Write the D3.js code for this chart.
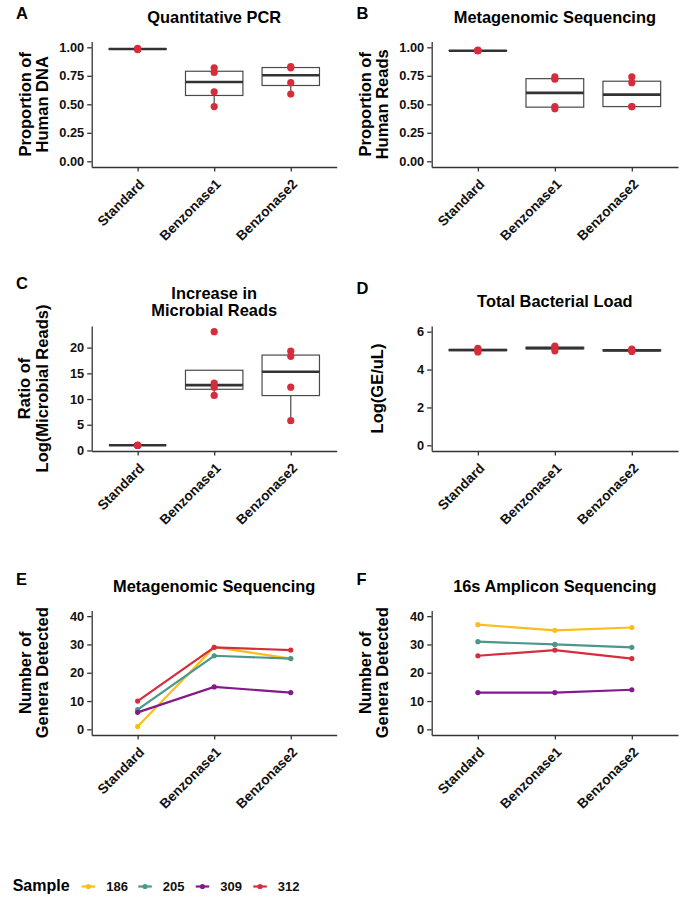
<!DOCTYPE html>
<html><head><meta charset="utf-8">
<script src="https://cdn.jsdelivr.net/npm/d3@7"></script>
<style>
body{margin:0;background:#fff;}
svg text{font-family:"Liberation Sans",Arial,Helvetica,sans-serif;font-weight:bold;}
</style></head><body>
<svg id="chart" width="687" height="904"></svg>
<script>
// ---------- data ----------
const categories = ["Standard", "Benzonase1", "Benzonase2"];
const qpcrHumanDNA = [[0.98, 0.985, 0.99, 0.985], [0.48, 0.61, 0.78, 0.82], [0.59, 0.69, 0.82, 0.83]];
const metaHumanReads = [[0.97, 0.97, 0.975, 0.97], [0.46, 0.48, 0.72, 0.74], [0.48, 0.48, 0.69, 0.74]];
const microbialRatio = [[1, 1, 1, 1], [10.7, 12.3, 13.1, 23.1], [5.8, 12.3, 18.3, 19.3]];
const bacterialLoad = [[4.93, 5.02, 5.04, 5.12], [4.99, 5.12, 5.16, 5.24], [4.96, 5.0, 5.03, 5.08]];
const samples = ["186", "205", "309", "312"];
const metaGenera = [[1, 29, 25], [7, 26, 25], [6, 15, 13], [10, 29, 28]];
const ampliconGenera = [[37, 35, 36], [31, 30, 29], [13, 13, 14], [26, 28, 25]];
const ticksProportion = [0, 0.25, 0.5, 0.75, 1];
const ticksRatio = [0, 5, 10, 15, 20];
const ticksLoad = [0, 2, 4, 6];
const ticksGenera = [0, 10, 20, 30, 40];

// ---------- styles ----------
const sampleColors = ["#F9BE1C", "#4B978C", "#84198C", "#D62D3D"];
const pointRed = "#D62D3D";
const axisColor = "#333333";
const svg = d3.select("#chart");

function expandDomain(lo, hi) { const d = (hi - lo) * 0.05; return [lo - d, hi + d]; }

function panel(cfg) {
  const g = svg.append("g");
  const x = d3.scalePoint().domain(categories).range([cfg.x0, cfg.x1]).padding(0.6);
  const y = d3.scaleLinear().domain(cfg.domain).range([cfg.y1, cfg.y0]);

  const ya = g.append("g").attr("transform", `translate(${cfg.x0},0)`)
    .call(d3.axisLeft(y).tickValues(cfg.ticks).tickFormat(cfg.fmt).tickSize(4.5).tickSizeOuter(0).tickPadding(3));
  const xa = g.append("g").attr("transform", `translate(0,${cfg.y1})`)
    .call(d3.axisBottom(x).tickSize(4.5).tickSizeOuter(0).tickFormat(() => ""));
  [ya, xa].forEach(a => {
    a.attr("font-family", null).attr("font-size", null);
    a.select(".domain").attr("stroke", axisColor).attr("stroke-width", 1.3);
    a.selectAll(".tick line").attr("stroke", axisColor).attr("stroke-width", 1.3);
  });
  ya.selectAll(".tick text").attr("font-size", 12.8).attr("fill", "#111");

  g.selectAll("text.xl").data(categories).join("text").attr("class", "xl")
    .attr("transform", d => `translate(${x(d) + 0.5},${cfg.y1 + 11}) rotate(-45)`)
    .attr("text-anchor", "end").attr("dy", "0.72em").attr("font-size", 13.7).attr("fill", "#111")
    .text(d => d);

  // panel label
  g.append("text").attr("x", cfg.labelX).attr("y", cfg.labelY).attr("font-size", 16.5).attr("fill", "#000").text(cfg.label);
  // title
  const tx = (cfg.x0 + cfg.x1) / 2;
  cfg.title.forEach((t, i) => {
    g.append("text").attr("x", tx).attr("y", cfg.titleY + i * 17.7).attr("text-anchor", "middle")
      .attr("font-size", 16.4).attr("fill", "#000").text(t);
  });
  // y title
  const yc = (cfg.y0 + cfg.y1) / 2;
  cfg.yTitle.forEach((t, i) => {
    g.append("text").attr("transform", `translate(${cfg.yTitleX[i]},${yc}) rotate(-90)`)
      .attr("text-anchor", "middle").attr("dy", "0.35em").attr("font-size", 16.5).attr("fill", "#000").text(t);
  });
  return { g, x, y };
}

function boxes(p, data) {
  const { g, x, y } = p;
  const bw = x.step() * 0.75;
  data.forEach((vals, i) => {
    const s = vals.slice().sort(d3.ascending);
    const q1 = d3.quantileSorted(s, 0.25), med = d3.quantileSorted(s, 0.5), q3 = d3.quantileSorted(s, 0.75);
    const iqr = q3 - q1;
    const lo = d3.min(s.filter(v => v >= q1 - 1.5 * iqr));
    const hi = d3.max(s.filter(v => v <= q3 + 1.5 * iqr));
    const cx = x(categories[i]);
    g.append("line").attr("x1", cx).attr("x2", cx).attr("y1", y(hi)).attr("y2", y(q3)).attr("stroke", "#4a4a4a").attr("stroke-width", 1.2);
    g.append("line").attr("x1", cx).attr("x2", cx).attr("y1", y(q1)).attr("y2", y(lo)).attr("stroke", "#4a4a4a").attr("stroke-width", 1.2);
    g.append("rect").attr("x", cx - bw / 2).attr("y", y(q3)).attr("width", bw).attr("height", Math.max(0, y(q1) - y(q3)))
      .attr("fill", "#fff").attr("stroke", "#4a4a4a").attr("stroke-width", 1.2);
    g.append("line").attr("x1", cx - bw / 2).attr("x2", cx + bw / 2).attr("y1", y(med)).attr("y2", y(med))
      .attr("stroke", "#333").attr("stroke-width", 2.6);
    g.selectAll(null).data(vals).join("circle").attr("cx", cx).attr("cy", d => y(d)).attr("r", 3.6).attr("fill", pointRed);
  });
}

function lines(p, data) {
  const { g, x, y } = p;
  const line = d3.line().x((d, j) => x(categories[j])).y(d => y(d));
  data.forEach((vals, i) => {
    g.append("path").attr("d", line(vals)).attr("fill", "none").attr("stroke", sampleColors[i]).attr("stroke-width", 2.2);
    g.selectAll(null).data(vals).join("circle").attr("cx", (d, j) => x(categories[j])).attr("cy", d => y(d))
      .attr("r", 2.6).attr("fill", sampleColors[i]);
  });
}

const fmt2 = d3.format(".2f"), fmt0 = d3.format("d");
const L = { x0: 91.7, x1: 336.7, lx: 16, tcol: [25.5, 42] };
const R = { x0: 431.7, x1: 678, lx: 356.5, tcol: [365.5, 382] };

const pA = panel({ x0: L.x0, x1: L.x1, y0: 41.6, y1: 167, domain: expandDomain(0, 1), ticks: ticksProportion, fmt: fmt2,
  label: "A", labelX: L.lx, labelY: 19, title: ["Quantitative PCR"], titleY: 23, yTitle: ["Proportion of", "Human DNA"], yTitleX: L.tcol });
boxes(pA, qpcrHumanDNA);

const pB = panel({ x0: R.x0, x1: R.x1, y0: 41.6, y1: 167, domain: expandDomain(0, 1), ticks: ticksProportion, fmt: fmt2,
  label: "B", labelX: R.lx, labelY: 19, title: ["Metagenomic Sequencing"], titleY: 23, yTitle: ["Proportion of", "Human Reads"], yTitleX: R.tcol });
boxes(pB, metaHumanReads);

const allC = microbialRatio.flat();
const pC = panel({ x0: L.x0, x1: L.x1, y0: 326, y1: 451, domain: expandDomain(d3.min(allC), d3.max(allC)), ticks: ticksRatio, fmt: fmt0,
  label: "C", labelX: L.lx, labelY: 289, title: ["Increase in", "Microbial Reads"], titleY: 298.5, yTitle: ["Ratio of", "Log(Microbial Reads)"], yTitleX: [24.5, 42] });
boxes(pC, microbialRatio);

const pD = panel({ x0: R.x0, x1: R.x1, y0: 326, y1: 451, domain: expandDomain(0, 6), ticks: ticksLoad, fmt: fmt0,
  label: "D", labelX: R.lx, labelY: 294, title: ["Total Bacterial Load"], titleY: 307, yTitle: ["Log(GE/uL)"], yTitleX: [377] });
boxes(pD, bacterialLoad);

const pE = panel({ x0: L.x0, x1: L.x1, y0: 610.5, y1: 735, domain: expandDomain(0, 40), ticks: ticksGenera, fmt: fmt0,
  label: "E", labelX: L.lx, labelY: 585, title: ["Metagenomic Sequencing"], titleY: 592, yTitle: ["Number of", "Genera Detected"], yTitleX: L.tcol });
lines(pE, metaGenera);

const pF = panel({ x0: R.x0, x1: R.x1, y0: 610.5, y1: 735, domain: expandDomain(0, 40), ticks: ticksGenera, fmt: fmt0,
  label: "F", labelX: R.lx, labelY: 585, title: ["16s Amplicon Sequencing"], titleY: 592, yTitle: ["Number of", "Genera Detected"], yTitleX: R.tcol });
lines(pF, ampliconGenera);

// ---------- legend ----------
const lg = svg.append("g");
lg.append("text").attr("x", 12.7).attr("y", 891).attr("font-size", 16).attr("fill", "#000").text("Sample");
const keyX = [81.7, 138.3, 195.7, 253.3];
samples.forEach((s, i) => {
  const kx = keyX[i];
  lg.append("line").attr("x1", kx).attr("x2", kx + 13.5).attr("y1", 886.5).attr("y2", 886.5).attr("stroke", sampleColors[i]).attr("stroke-width", 2.2);
  lg.append("circle").attr("cx", kx + 6.75).attr("cy", 886.5).attr("r", 2.6).attr("fill", sampleColors[i]);
  lg.append("text").attr("x", kx + 24.5).attr("y", 891).attr("font-size", 13).attr("fill", "#111").text(s);
});
</script>
</body></html>
